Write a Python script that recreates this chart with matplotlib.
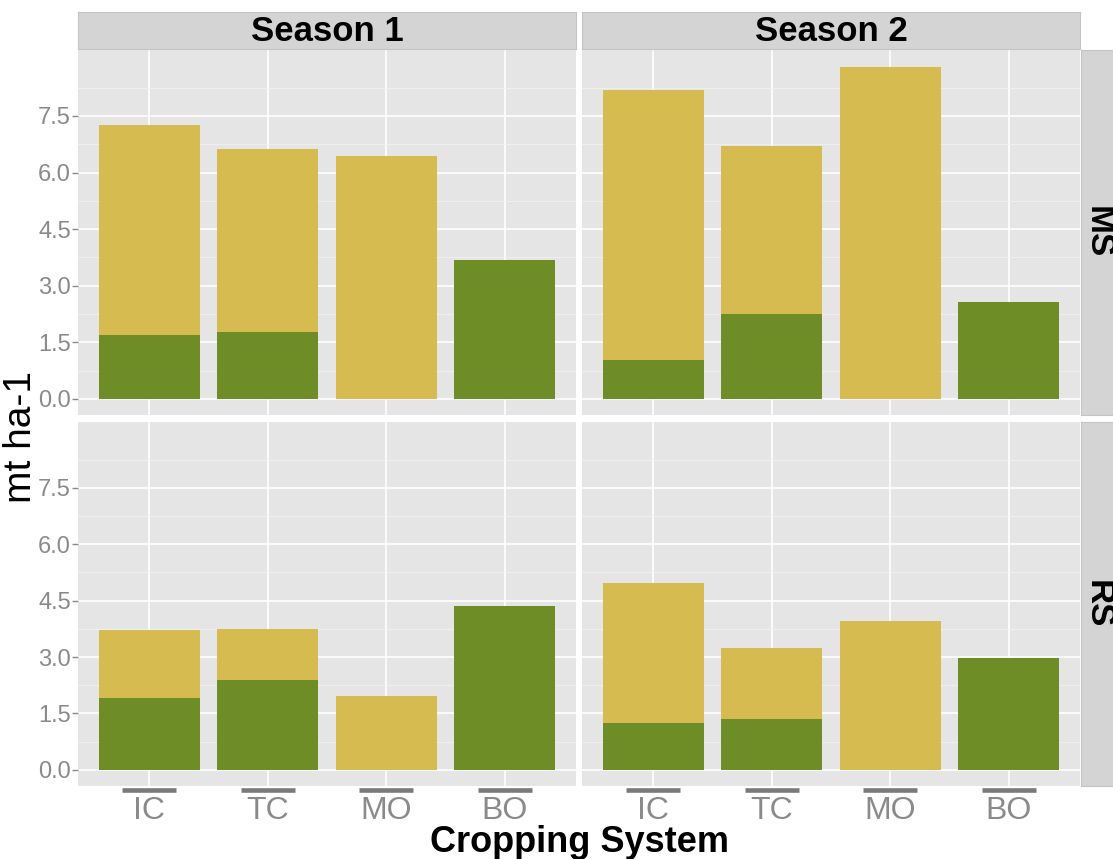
import numpy as np
import matplotlib
matplotlib.use("Agg")
import matplotlib.pyplot as plt
import matplotlib.transforms as mtransforms

plt.rcParams['font.family'] = ['Liberation Sans', 'DejaVu Sans']

systems = ["IC", "TC", "MO", "BO"]
seasons = ["Season 1", "Season 2"]
sites = ["MS", "RS"]

# green (bottom) and yellow (top) parts of each stacked bar, mt ha-1
ms_s1_green = [1.70, 1.77, 0.0, 3.68]
ms_s1_yellow = [5.56, 4.85, 6.45, 0.0]
ms_s2_green = [1.03, 2.25, 0.0, 2.58]
ms_s2_yellow = [7.16, 4.46, 8.81, 0.0]
rs_s1_green = [1.90, 2.39, 0.0, 4.36]
rs_s1_yellow = [1.83, 1.36, 1.97, 0.0]
rs_s2_green = [1.24, 1.36, 0.0, 2.97]
rs_s2_yellow = [3.74, 1.87, 3.97, 0.0]

panels = {
    ("MS", "Season 1"): (ms_s1_green, ms_s1_yellow),
    ("MS", "Season 2"): (ms_s2_green, ms_s2_yellow),
    ("RS", "Season 1"): (rs_s1_green, rs_s1_yellow),
    ("RS", "Season 2"): (rs_s2_green, rs_s2_yellow),
}

GREEN = "#6F8D26"
YELLOW = "#D5BB50"
BG = "#E5E5E5"
STRIP = "#D4D4D4"
GREY_TXT = "#8A8A8A"

W, H = 1113, 859
fig = plt.figure(figsize=(W / 100, H / 100), dpi=100)

# panel boxes in pixels
cols = [(78, 576), (582, 1080)]
rows = [(50, 415), (422, 786)]
yticks = [0.0, 1.5, 3.0, 4.5, 6.0, 7.5]
yminor = [0.75, 2.25, 3.75, 5.25, 6.75, 8.25]

x = np.arange(1, len(systems) + 1)

for r, site in enumerate(sites):
    for c, season in enumerate(seasons):
        x0, x1 = cols[c]
        y0, y1 = rows[r]
        ax = fig.add_axes([x0 / W, (H - y1) / H, (x1 - x0) / W, (y1 - y0) / H])
        ax.set_facecolor(BG)
        for s in ax.spines.values():
            s.set_visible(False)
        green, yellow = panels[(site, season)]
        ax.bar(x, green, width=0.85, color=GREEN, zorder=3)
        ax.bar(x, yellow, width=0.85, bottom=green, color=YELLOW, zorder=3)
        ax.set_xlim(0.4, 4.6)
        ax.set_ylim(-0.43, 9.25)
        ax.set_yticks(yticks)
        ax.set_yticks(yminor, minor=True)
        ax.set_xticks(x)
        ax.grid(True, which='major', color='white', linewidth=1.2, zorder=0)
        ax.grid(True, which='minor', axis='y', color='#F2F2F2', linewidth=0.6, zorder=0)
        ax.set_axisbelow(True)
        ax.tick_params(axis='y', which='minor', length=0)
        if c == 0:
            ax.set_yticklabels([f"{v:.1f}" for v in yticks])
            ax.tick_params(axis='y', which='major', length=4, width=1, color='#8A8A8A',
                           labelsize=17, labelcolor=GREY_TXT, pad=1)
        else:
            ax.tick_params(axis='y', which='major', length=0, labelleft=False)
        if r == 1:
            ax.set_xticklabels(systems)
            ax.tick_params(axis='x', length=0, labelsize=23, labelcolor=GREY_TXT, pad=7)
            trans = mtransforms.blended_transform_factory(ax.transData, ax.transAxes)
            ax.plot(x, [-0.011] * len(x), linestyle='none', marker='_', markersize=39,
                    markeredgewidth=3.3, color='#7A7A7A', transform=trans, clip_on=False)
        else:
            ax.tick_params(axis='x', length=0, labelbottom=False)

        if r == 0:
            sax = fig.add_axes([x0 / W, (H - 49) / H, (x1 - x0) / W, 37 / H])
            sax.set_facecolor(STRIP)
            sax.set_xticks([])
            sax.set_yticks([])
            for s in sax.spines.values():
                s.set_color('#C4C4C4')
            sax.text(0.5, 0.47, season, ha='center', va='center', fontsize=25,
                     fontweight='bold', transform=sax.transAxes)
        if c == 1:
            rax = fig.add_axes([1081 / W, (H - y1) / H, 34 / W, (y1 - y0) / H])
            rax.set_facecolor(STRIP)
            rax.set_xticks([])
            rax.set_yticks([])
            for s in rax.spines.values():
                s.set_color('#C4C4C4')
            rax.text(0.5, 0.5, site, ha='center', va='center', fontsize=25,
                     fontweight='bold', rotation=270, transform=rax.transAxes)

fig.text(21 / W, 1 - 437 / H, "mt ha-1", rotation=90, ha='center', va='center', fontsize=28)
fig.text(579 / W, 1 - 842 / H, "Cropping System", ha='center', va='center', fontsize=26,
         fontweight='bold')

fig.savefig("out.png", dpi=100)
